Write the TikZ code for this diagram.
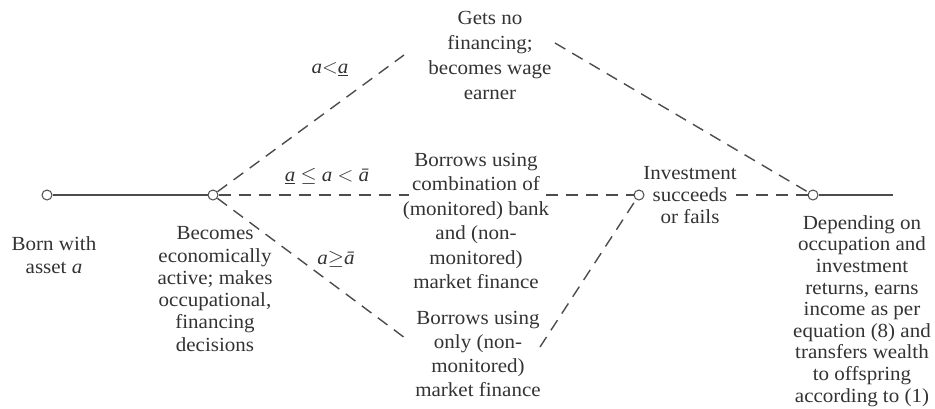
\documentclass[tikz,border=0pt]{standalone}
\usepackage{fontspec}
\setmainfont{Liberation Serif}[FakeStretch=1.05]
\begin{document}
\begin{tikzpicture}[x=1pt,y=-1pt,
  every node/.style={text=black!80},
  dot/.style={circle,draw=black!70,fill=white,line width=1pt,inner sep=0pt,minimum size=10pt},
  solidline/.style={draw=black!70,line width=1.2pt},
  dashline/.style={draw=black!70,line width=1.4pt,dash pattern=on 12pt off 8pt},
  txt/.style={align=center,inner sep=0pt,font=\fontsize{20}{#1}\selectfont},
  txt/.default=23,
  lab/.style={inner sep=0pt,font=\fontsize{20}{23}\selectfont}]
\useasboundingbox (0,0) rectangle (935,408);
% event nodes
\node[dot] (c1) at (47,195) {};
\node[dot] (c2) at (213,195) {};
\node[dot] (c3) at (639,195) {};
\node[dot] (c4) at (813,195) {};
\coordinate (end) at (893,195);
% texts
\node[txt=25] (top) at (490,55) {Gets no\\financing;\\becomes wage\\earner};
\node[txt=24.4] (mid) at (476,221) {Borrows using\\combination of\\(monitored) bank\\and (non-\\monitored)\\market finance};
\node[txt=23.7] (bot) at (478,354) {Borrows using\\only (non-\\monitored)\\market finance};
\node[txt=22] (inv) at (690,195) {Investment\\succeeds\\or fails};
\node[txt=23] (born) at (54,255) {Born with\\asset \textit{a}};
\node[txt=22.3] (becomes) at (215,289) {Becomes\\economically\\active; makes\\occupational,\\financing\\decisions};
\node[txt=21.6] (dep) at (862,311) {Depending on\\occupation and\\investment\\returns, earns\\income as per\\equation (8) and\\transfers wealth\\to offspring\\according to (1)};
% branch labels
\node[lab] (l1) at (330,69) {\textit{a}$<$\underline{\textit{a}}};
\node[lab] (l2) at (327,176) {\underline{\textit{a}} $\leq$ \textit{a} $<$ \textit{\=a}};
\node[lab] (l3) at (336,259) {\textit{a}$\geq$\textit{\=a}};
% connector end points at text edges
\coordinate (tl) at (404,55);
\coordinate (tr) at (555,43);
\coordinate (ml) at (409,195);
\coordinate (mr) at (546,195);
\coordinate (bl) at (405,338);
\coordinate (br) at (540,347);
\coordinate (ir) at (736,195);
% connectors
\draw[solidline] (c1) -- (c2);
\draw[solidline] (c4) -- (end);
\draw[dashline] (c2) -- (tl);
\draw[dashline] (c2) -- (ml);
\draw[dashline] (c2) -- (bl);
\draw[dashline] (mr) -- (c3);
\draw[dashline] (br) -- (c3);
\draw[dashline] (tr) -- (c4);
\draw[dashline] (ir) -- (c4);
\end{tikzpicture}
\end{document}
